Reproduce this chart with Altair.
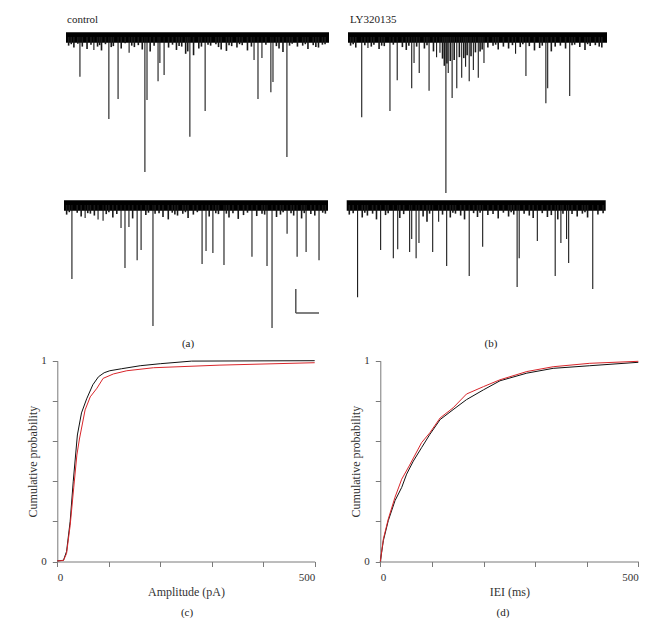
import altair as alt
import pandas as pd

W, H = 654, 610
PX_PER_PA = 0.48
FONT = "Liberation Serif"

# ---------------- trace events (time across sweep 0-10, amplitude pA) -------------
ctrl_top_t = [0.53, 1.06, 1.63, 1.98, 2.40, 3.00, 3.08, 3.50, 3.57, 3.73, 4.71, 5.29, 7.15, 7.30, 7.45, 7.79, 7.87, 8.40]
ctrl_top_a = [83, 27, 171, 129, 33, 281, 131, 92, 54, 79, 208, 154, 48, 129, 44, 115, 94, 250]
ctrl_top_small_t = [0.1, 0.2, 0.3, 0.45, 0.62, 0.8, 0.95, 1.2, 1.28, 1.35, 1.5, 1.72, 1.8, 2.1, 2.25, 2.5, 2.6,
                    2.75, 2.9, 3.2, 3.35, 3.9, 4.05, 4.2, 4.3, 4.4, 4.55, 4.63, 4.85, 5.05, 5.15, 5.4, 5.5, 5.7,
                    5.8, 5.9, 6.1, 6.2, 6.3, 6.5, 6.6, 6.7, 6.9, 7.05, 7.6, 8.0, 8.1, 8.25, 8.5, 8.6, 8.8, 9.0,
                    9.1, 9.2, 9.4, 9.5, 9.6, 9.75, 9.85]
ctrl_top_small_a = [18, 15, 22, 14, 20, 25, 16, 20, 17, 28, 15, 21, 19, 24, 13, 18, 21, 17, 26, 30, 18, 22, 16,
                    27, 19, 20, 35, 30, 38, 24, 20, 16, 18, 15, 21, 26, 29, 17, 19, 22, 15, 17, 28, 20, 16, 19,
                    24, 31, 18, 14, 20, 18, 15, 25, 17, 21, 22, 16, 15]

ctrl_bot_t = [0.30, 0.80, 1.29, 1.48, 2.16, 2.31, 2.46, 2.77, 2.92, 3.37, 5.23, 5.38, 5.64, 6.06, 7.12, 7.69, 7.88,
              8.45, 8.83, 9.17, 9.66]
ctrl_bot_a = [154, 27, 30, 33, 48, 131, 46, 115, 94, 252, 123, 96, 100, 125, 108, 127, 256, 60, 108, 98, 115]
ctrl_bot_small_t = [0.1, 0.2, 0.5, 0.65, 0.9, 1.0, 1.15, 1.6, 1.7, 1.85, 2.0, 2.6, 3.1, 3.2, 3.45, 3.6, 3.75,
                    3.95, 4.1, 4.2, 4.3, 4.5, 4.6, 4.7, 4.9, 5.05, 5.5, 5.75, 5.85, 6.15, 6.25, 6.4, 6.6, 6.8,
                    6.95, 7.3, 7.5, 7.6, 8.05, 8.2, 8.3, 8.6, 8.7, 9.0, 9.1, 9.35, 9.5, 9.8, 9.9]
ctrl_bot_small_a = [20, 15, 16, 24, 17, 18, 22, 19, 15, 26, 19, 28, 21, 16, 18, 17, 25, 30, 16, 20, 22, 18, 15,
                    27, 20, 15, 24, 17, 19, 18, 26, 17, 29, 21, 16, 23, 18, 20, 25, 20, 15, 17, 22, 28, 17, 19,
                    22, 16, 18]

ly_top_t = [0.53, 0.77, 1.62, 1.90, 2.46, 2.55, 2.75, 3.13, 3.42, 3.55, 3.78, 3.87, 4.02, 4.20, 4.39, 4.54, 4.68,
            4.84, 5.03, 5.25, 6.47, 6.87, 7.64, 7.71, 8.56]
ly_top_a = [167, 23, 154, 90, 107, 54, 75, 112, 42, 33, 325, 75, 127, 107, 85, 62, 92, 69, 85, 54, 35, 81, 138,
            107, 123]
ly_top_small_t = [0.1, 0.2, 0.3, 0.65, 0.9, 1.0, 1.2, 1.3, 1.4, 1.75, 2.1, 2.25, 2.35, 2.65, 2.95, 3.05, 3.3,
                  3.65, 3.72, 3.82, 3.95, 4.1, 4.3, 4.47, 4.6, 4.75, 4.92, 5.1, 5.18, 5.4, 5.6, 5.7, 5.8, 6.0,
                  6.2, 6.35, 6.65, 6.75, 7.0, 7.2, 7.4, 7.5, 7.85, 8.0, 8.2, 8.4, 8.65, 8.75, 8.95, 9.15, 9.25,
                  9.35, 9.55, 9.7, 9.8]
ly_top_small_a = [18, 15, 22, 17, 20, 16, 25, 18, 19, 16, 21, 27, 18, 20, 24, 17, 30, 45, 60, 55, 50, 48, 42, 44,
                  38, 40, 32, 30, 26, 22, 18, 16, 26, 20, 24, 17, 21, 15, 19, 28, 23, 18, 30, 20, 18, 24, 17,
                  16, 21, 27, 15, 19, 17, 20, 22]

ly_bot_t = [0.42, 1.31, 1.80, 1.97, 2.43, 2.51, 2.68, 2.79, 3.32, 3.55, 3.86, 4.73, 5.25, 6.58, 6.66, 7.36, 8.05,
            8.27, 8.49, 8.57, 9.50]
ly_bot_a = [192, 94, 111, 92, 98, 71, 111, 79, 98, 35, 127, 148, 87, 171, 111, 75, 148, 79, 71, 121, 175]
ly_bot_small_t = [0.1, 0.25, 0.6, 0.7, 0.8, 1.0, 1.15, 1.5, 1.6, 2.05, 2.2, 2.95, 3.1, 3.2, 3.7, 4.0, 4.1, 4.2,
                  4.4, 4.55, 4.9, 5.05, 5.15, 5.45, 5.65, 5.85, 6.05, 6.25, 6.35, 6.45, 6.85, 7.05, 7.2, 7.55,
                  7.75, 7.9, 8.15, 8.35, 8.7, 8.9, 9.1, 9.2, 9.3, 9.7, 9.9]
ly_bot_small_a = [20, 17, 26, 16, 22, 18, 30, 21, 17, 27, 19, 24, 35, 18, 20, 26, 16, 18, 22, 30, 17, 25, 16, 21,
                  19, 28, 16, 24, 15, 20, 18, 22, 27, 17, 25, 21, 30, 18, 19, 24, 18, 15, 26, 20, 17]

# scale bar (pA, time units of sweep)
BAR_PA = 50
BAR_T = 0.88

# ---------------- cumulative distributions -------------
amp_x_ctrl = [0, 12, 18, 25, 31, 39, 47, 57, 69, 80, 91, 102, 125, 161, 200, 261, 500]
amp_p_ctrl = [0.003, 0.006, 0.05, 0.20, 0.40, 0.63, 0.74, 0.81, 0.88, 0.92, 0.94, 0.95, 0.96, 0.975, 0.985, 0.998, 1.0]
amp_x_ly = [0, 12, 18, 25, 32, 38, 43, 54, 64, 77, 89, 109, 135, 187, 316, 500]
amp_p_ly = [0.003, 0.005, 0.04, 0.18, 0.37, 0.53, 0.61, 0.755, 0.82, 0.863, 0.912, 0.934, 0.95, 0.965, 0.978, 0.99]

iei_x_ctrl = [0, 6, 15.5, 28.5, 41.5, 51, 64, 80, 96, 116, 141, 167, 200, 232, 284, 335, 406, 500]
iei_p_ctrl = [0, 0.105, 0.204, 0.303, 0.369, 0.435, 0.50, 0.567, 0.633, 0.707, 0.756, 0.806, 0.855, 0.90, 0.938,
              0.962, 0.975, 0.992]
iei_x_ly = [0, 6, 15.5, 28.5, 41.5, 56, 80, 96, 116, 141, 167, 200, 232, 284, 335, 406, 500]
iei_p_ly = [0, 0.113, 0.212, 0.32, 0.41, 0.476, 0.592, 0.641, 0.715, 0.765, 0.834, 0.871, 0.905, 0.946, 0.97,
            0.987, 0.997]

series_names = ["control", "LY320135"]
series_colors = ["#111111", "#d9262b"]


def trace_layer(t, a, ts, as_, x_range, base_y, scalebar=False):
    big = pd.DataFrame({"t": t, "amp": a})
    small = pd.DataFrame({"t": ts, "amp": as_})
    for df in (big, small):
        df["zero"] = 0
        df["neg"] = -df["amp"]
    xs = alt.Scale(domain=[0, 10], range=x_range, nice=False, zero=False)
    ys = alt.Scale(domain=[-400, 20], range=[base_y + 400 * PX_PER_PA, base_y - 20 * PX_PER_PA],
                   nice=False, zero=False)
    band = alt.Chart(pd.DataFrame({"t0": [0], "t1": [10], "hi": [10], "lo": [-12]})).mark_rect(
        color="black").encode(
        x=alt.X("t0:Q", scale=xs, axis=None), x2="t1:Q",
        y=alt.Y("hi:Q", scale=ys, axis=None), y2="lo:Q")
    sm = alt.Chart(small).mark_rule(color="#1a1a1a", strokeWidth=1.6).encode(
        x=alt.X("t:Q", scale=xs, axis=None),
        y=alt.Y("zero:Q", scale=ys, axis=None), y2="neg:Q")
    ev = alt.Chart(big).mark_rule(color="#1a1a1a", strokeWidth=1.1).encode(
        x=alt.X("t:Q", scale=xs, axis=None),
        y=alt.Y("zero:Q", scale=ys, axis=None), y2="neg:Q")
    layers = [band, sm, ev]
    if scalebar:
        bar = pd.DataFrame({"x0": [8.78, 8.78], "x1": [8.78, 8.78 + BAR_T],
                            "y0": [-175, -175 - BAR_PA], "y1": [-175 - BAR_PA, -175 - BAR_PA]})
        layers.append(alt.Chart(bar).mark_rule(color="#555555", strokeWidth=1.5).encode(
            x=alt.X("x0:Q", scale=xs, axis=None), x2="x1:Q",
            y=alt.Y("y0:Q", scale=ys, axis=None), y2="y1:Q"))
    return alt.layer(*layers)


def cum_layer(xc, pc, xl, pl, x_range, title):
    df = pd.concat([
        pd.DataFrame({"x": xc, "p": pc, "s": "control", "o": 0}),
        pd.DataFrame({"x": xl, "p": pl, "s": "LY320135", "o": 1}),
    ])
    xs = alt.Scale(domain=[0, 500], range=x_range, nice=False, zero=False)
    ys = alt.Scale(domain=[0, 1], range=[553.5, 352.7], nice=False, zero=False)
    ax_common = dict(grid=False, domainColor="#7a7a7a", tickColor="#7a7a7a", tickSize=5,
                     labelFont=FONT, labelFontSize=11, labelColor="#333333",
                     titleFont=FONT, titleFontSize=12, titleFontWeight="normal", titleColor="#333333")
    return alt.Chart(df).mark_line(strokeWidth=1).encode(
        x=alt.X("x:Q", scale=xs, axis=alt.Axis(
            orient="bottom", offset=-(H - 553.5), values=[0, 100, 200, 300, 400, 500],
            labelExpr="datum.value == 0 || datum.value == 500 ? datum.label : ''",
            title=title, labelPadding=5, titlePadding=4, **ax_common)),
        y=alt.Y("p:Q", scale=ys, axis=alt.Axis(
            orient="left", offset=-x_range[0], values=[0, 0.2, 0.4, 0.6, 0.8, 1],
            labelExpr="datum.value == 0 ? '0' : (datum.value == 1 ? '1' : '')",
            title="Cumulative probability", labelPadding=6, titlePadding=1, **ax_common)),
        color=alt.Color("s:N", scale=alt.Scale(domain=series_names, range=series_colors), legend=None),
        detail="o:N",
    )


def label(text, x, y, align="center", size=11):
    return alt.Chart(pd.DataFrame({"l": [text]})).mark_text(
        font=FONT, fontSize=size, color="#222222", align=align, baseline="alphabetic").encode(
        x=alt.value(x), y=alt.value(y), text="l:N")


layers = [
    trace_layer(ctrl_top_t, ctrl_top_a, ctrl_top_small_t, ctrl_top_small_a, [58, 321], 29),
    trace_layer(ctrl_bot_t, ctrl_bot_a, ctrl_bot_small_t, ctrl_bot_small_a, [56, 320], 197, scalebar=True),
    trace_layer(ly_top_t, ly_top_a, ly_top_small_t, ly_top_small_a, [340, 599], 29),
    trace_layer(ly_bot_t, ly_bot_a, ly_bot_small_t, ly_bot_small_a, [338.7, 597.7], 197),
    cum_layer(amp_x_ctrl, amp_p_ctrl, amp_x_ly, amp_p_ly, [49.3, 306.7], "Amplitude (pA)"),
    cum_layer(iei_x_ctrl, iei_p_ctrl, iei_x_ly, iei_p_ly, [372.3, 630.3], "IEI (ms)"),
    label("control", 59, 15, align="left"),
    label("LY320135", 342, 15, align="left"),
    label("(a)", 180, 339),
    label("(b)", 483, 339),
    label("(c)", 179, 608),
    label("(d)", 495, 608),
]

chart = alt.layer(*layers).resolve_scale(x="independent", y="independent").properties(
    width=W, height=H, autosize=alt.AutoSizeParams(type="none"), padding=0
).configure_view(stroke=None)

chart.save("out.html", embed_options={"renderer": "svg", "actions": False})
